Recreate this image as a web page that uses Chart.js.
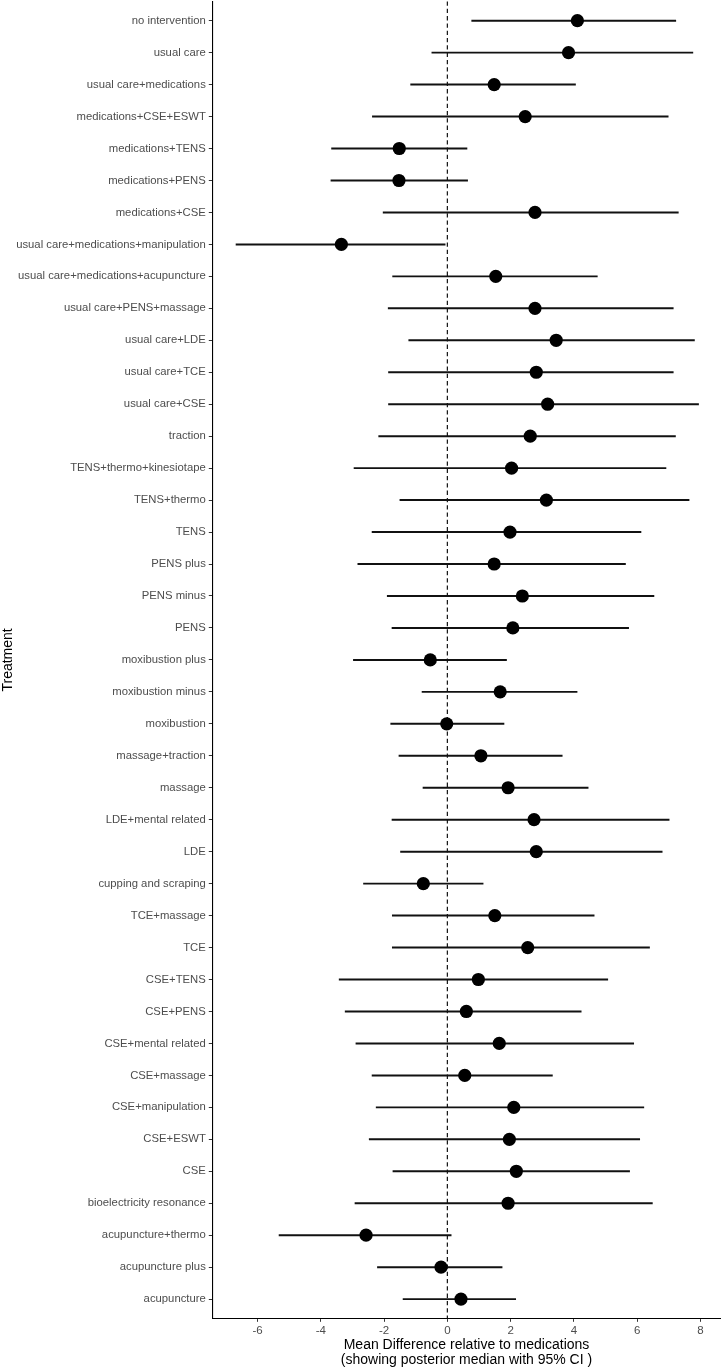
<!DOCTYPE html>
<html>
<head>
<meta charset="utf-8">
<script src="https://cdn.jsdelivr.net/npm/chart.js@4.4.1/dist/chart.umd.min.js"></script>
<style>
html,body{margin:0;padding:0;background:#fff;}
#wrap{width:724px;height:1370px;position:relative;}
</style>
</head>
<body>
<div id="wrap"><canvas id="c"></canvas></div>
<script>
const categories = [
  "no intervention","usual care","usual care+medications","medications+CSE+ESWT",
  "medications+TENS","medications+PENS","medications+CSE","usual care+medications+manipulation",
  "usual care+medications+acupuncture","usual care+PENS+massage","usual care+LDE","usual care+TCE",
  "usual care+CSE","traction","TENS+thermo+kinesiotape","TENS+thermo","TENS","PENS plus",
  "PENS minus","PENS","moxibustion plus","moxibustion minus","moxibustion","massage+traction",
  "massage","LDE+mental related","LDE","cupping and scraping","TCE+massage","TCE","CSE+TENS",
  "CSE+PENS","CSE+mental related","CSE+massage","CSE+manipulation","CSE+ESWT","CSE",
  "bioelectricity resonance","acupuncture+thermo","acupuncture plus","acupuncture"
];
const median = [4.11,3.83,1.48,2.46,-1.52,-1.53,2.77,-3.35,1.53,2.77,3.44,2.81,3.17,2.62,2.03,3.13,
  1.98,1.48,2.37,2.07,-0.54,1.67,-0.02,1.06,1.92,2.74,2.81,-0.76,1.50,2.54,0.98,0.60,1.64,0.55,2.10,
  1.96,2.18,1.92,-2.57,-0.20,0.43];
const lower = [0.77,-0.49,-1.16,-2.37,-3.66,-3.68,-2.03,-6.68,-1.73,-1.87,-1.22,-1.86,-1.86,-2.17,-2.95,
  -1.50,-2.38,-2.83,-1.90,-1.75,-2.97,-0.80,-1.79,-1.53,-0.77,-1.75,-1.48,-2.65,-1.74,-1.74,-3.42,-3.23,
  -2.89,-2.38,-2.25,-2.47,-1.72,-2.92,-5.32,-2.21,-1.40];
const upper = [7.22,7.76,4.05,6.98,0.62,0.64,7.30,-0.07,4.74,7.14,7.81,7.14,7.94,7.21,6.91,7.64,6.12,5.63,
  6.53,5.73,1.87,4.10,1.79,3.63,4.45,7.01,6.79,1.13,4.64,6.39,5.07,4.23,5.89,3.32,6.21,6.08,5.76,6.48,
  0.12,1.73,2.16];
const xTicks = [-6,-4,-2,0,2,4,6,8];
const xTitle = ["Mean Difference relative to medications","(showing posterior median with 95% CI )"];
const yTitle = "Treatment";

const FONT = "'Liberation Sans', Arial, sans-serif";

const refLine = {
  id: 'refLine',
  beforeDatasetsDraw(chart) {
    const {ctx, chartArea, scales} = chart;
    const x = scales.x.getPixelForValue(0);
    ctx.save();
    ctx.strokeStyle = '#111';
    ctx.lineWidth = 1.2;
    ctx.setLineDash([4.3, 3]);
    ctx.beginPath();
    ctx.moveTo(x, chartArea.top);
    ctx.lineTo(x, chartArea.bottom);
    ctx.stroke();
    ctx.restore();
  }
};

new Chart(document.getElementById('c'), {
  type: 'scatter',
  data: {
    datasets: [
      {
        type: 'bar',
        indexAxis: 'y',
        data: categories.map((c, i) => ({y: i, x: [lower[i], upper[i]]})),
        backgroundColor: '#111',
        borderWidth: 0,
        barThickness: 1.3,
        order: 2
      },
      {
        type: 'scatter',
        data: categories.map((c, i) => ({x: median[i], y: i})),
        pointRadius: 6.6,
        pointHoverRadius: 6.6,
        backgroundColor: '#000',
        borderWidth: 0,
        order: 1
      }
    ]
  },
  options: {
    responsive: true,
    maintainAspectRatio: false,
    animation: false,
    events: [],
    layout: {autoPadding: false, padding: {top: 1.5, right: 3.3, left: 0, bottom: 0}},
    plugins: {legend: {display: false}, tooltip: {enabled: false}},
    scales: {
      x: {
        type: 'linear',
        min: -7.43,
        max: 8.64,
        offset: false,
        afterBuildTicks: s => { s.ticks = xTicks.map(v => ({value: v})); },
        afterFit: s => { s.height = 51.7; s.paddingLeft = 0; s.paddingRight = 0; },
        grid: {drawOnChartArea: false, drawTicks: true, tickLength: 3.5, tickColor: '#333', offset: false},
        border: {display: true, color: '#000', width: 1.1},
        ticks: {color: '#4d4d4d', font: {family: FONT, size: 11.5}, padding: 2.5, autoSkip: false, maxRotation: 0},
        title: {display: true, text: xTitle, color: '#000', font: {family: FONT, size: 14, lineHeight: 1.07}, padding: {top: 0, bottom: 2.5}}
      },
      y: {
        type: 'linear',
        reverse: true,
        min: -0.6,
        max: 40.6,
        offset: false,
        afterBuildTicks: s => { s.ticks = categories.map((c, i) => ({value: i})); },
        afterFit: s => { s.width = 212.3; s.paddingTop = 0; s.paddingBottom = 0; },
        grid: {drawOnChartArea: false, drawTicks: true, tickLength: 3.5, tickColor: '#333', offset: false},
        border: {display: true, color: '#000', width: 1.1},
        ticks: {color: '#4d4d4d', font: {family: FONT, size: 11.3}, padding: 3, autoSkip: false,
                callback: v => categories[v]},
        title: {display: true, text: yTitle, color: '#000', font: {family: FONT, size: 14}, padding: {top: 0, bottom: 0}}
      }
    }
  },
  plugins: [refLine]
});
</script>
</body>
</html>
